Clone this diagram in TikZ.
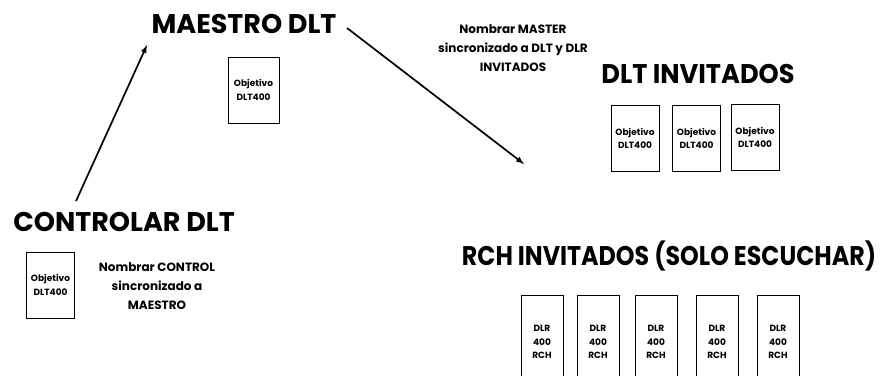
\documentclass[tikz,border=0pt]{standalone}
\usepackage{fontspec}
\setmainfont{Poppins}
\begin{document}
\begin{tikzpicture}[x=1pt,y=-1pt]
% Estilos
\tikzstyle{flecha}=[->,>=latex,line width=1.7pt]
\tikzstyle{titulo}=[anchor=base,inner sep=0pt,font=\fontsize{27}{30}\selectfont\bfseries]
\tikzstyle{nota}=[align=center,inner sep=0pt,font=\fontsize{12}{19}\selectfont\bfseries]
\tikzstyle{equipo}=[draw,line width=1pt,inner sep=0pt,align=center,font=\fontsize{9}{13.5}\selectfont\bfseries]
\tikzstyle{objetivo}=[equipo,minimum width=48pt,minimum height=66pt]
\tikzstyle{receptor}=[equipo,minimum width=42pt,minimum height=94pt]
% Marco
\useasboundingbox (0,0) rectangle (883,375);
\clip (0,0) rectangle (883,375);
% Titulos
\node[titulo] (maestro) at (244,33) {MAESTRO DLT};
\node[titulo] (control) at (124,231) {CONTROLAR DLT};
\node[titulo] (invitados) at (698,83) {\scalebox{0.95}[1]{DLT INVITADOS}};
\node[titulo] (rch) at (669,265) {\scalebox{0.88}[1]{RCH INVITADOS (SOLO ESCUCHAR)}};
% Notas
\node[nota] (notamaestro) at (513,48) {Nombrar MASTER\\sincronizado a DLT y DLR\\INVITADOS};
\node[nota] (notacontrol) at (157,286) {Nombrar CONTROL\\sincronizado a\\MAESTRO};
% Equipos DLT
\node[objetivo,minimum width=51pt] (M) at (253.5,90) {Objetivo\\DLT400};
\node[objetivo] (C) at (50.5,285) {Objetivo\\DLT400};
\node[objetivo] (Ia) at (635,138.5) {Objetivo\\DLT400};
\node[objetivo] (Ib) at (696.5,138.5) {Objetivo\\DLT400};
\node[objetivo] (Ic) at (755,137.5) {Objetivo\\DLT400};
% Equipos DLR
\foreach \x [count=\i] in {542,598,656,717,778}
  \node[receptor] (R\i) at (\x,342) {DLR\\400\\RCH};
% Flechas
\coordinate (controlsal) at (76,201);
\coordinate (maestrolle) at (147,45);
\coordinate (maestrosal) at (347,28);
\coordinate (invitadoslle) at (524,164);
\draw[flecha] (controlsal)--(maestrolle);
\draw[flecha] (maestrosal)--(invitadoslle);
\end{tikzpicture}
\end{document}
